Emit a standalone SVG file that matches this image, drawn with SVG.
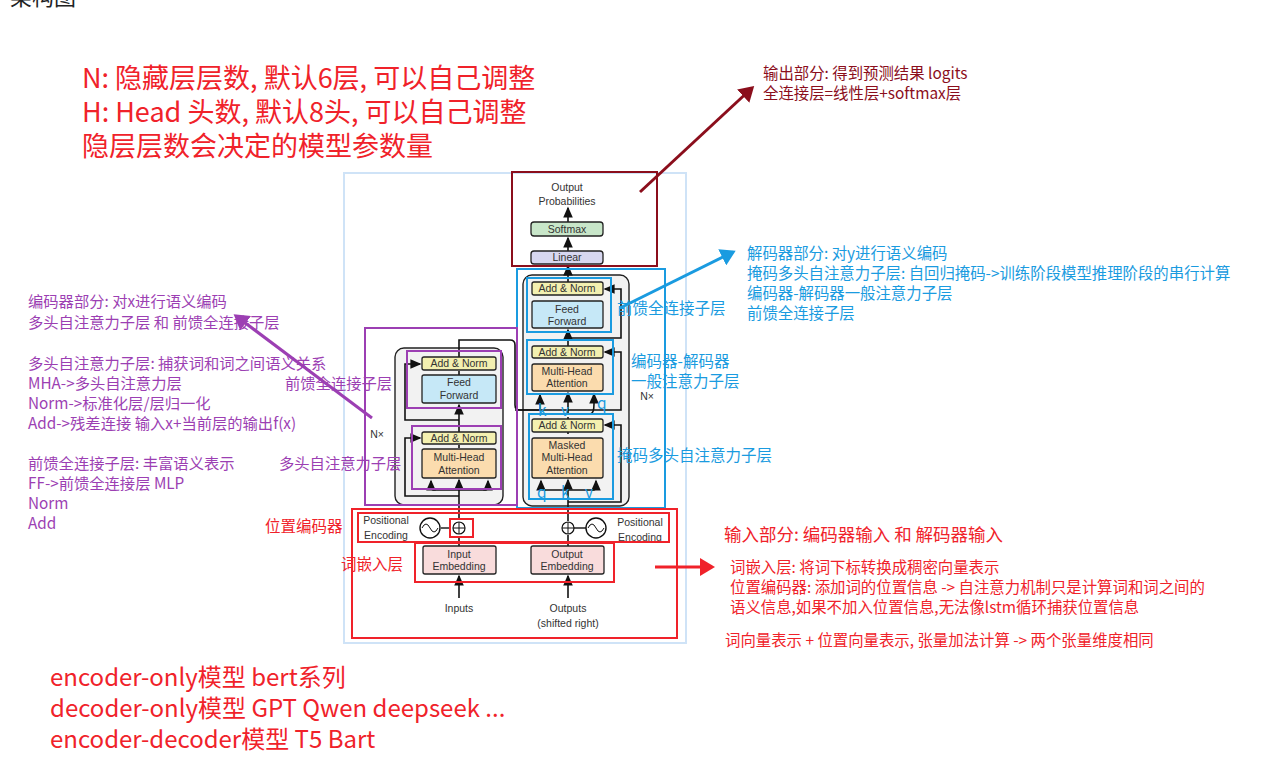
<svg xmlns="http://www.w3.org/2000/svg" width="1280" height="769" viewBox="0 0 1280 769" xml:space="preserve">
<style>
.t{font-family:"Noto Sans CJK SC","Liberation Sans",sans-serif}
.lab{font-family:"Liberation Sans",Arial,sans-serif;font-size:10.5px;fill:#333;text-anchor:middle}
.red{fill:#f0222a}.pur{fill:#9c3fb3}.blu{fill:#1a9be0}.dr{fill:#8b0e1c}
.blk{fill:none;stroke:#111;stroke-width:1.6}
.box{stroke:#222;stroke-width:1.3}
</style>
<defs>
<marker id="ah" markerWidth="8" markerHeight="8" refX="6" refY="4" orient="auto"><path d="M0,1 L7,4 L0,7 z" fill="#111"/></marker>
<marker id="ar" markerWidth="6" markerHeight="6" refX="4" refY="3" orient="auto" markerUnits="strokeWidth"><path d="M0,0 L5,3 L0,6 z" fill="context-stroke"/></marker>
</defs>
<rect width="1280" height="769" fill="#fff"/>
<text class="t" x="10" y="5" font-size="22" fill="#222">架构图</text>
<rect x="344" y="173" width="342" height="470" fill="#fff" stroke="#cfe3f7" stroke-width="2"/>
<g id="enc-stack"><rect x="395" y="348" width="108" height="157" rx="9" fill="#f2f2f2" stroke="#222" stroke-width="1.4"/></g>
<g id="dec-stack"><rect x="523" y="275" width="106" height="231" rx="9" fill="#f2f2f2" stroke="#222" stroke-width="1.4"/></g>
<g id="connectors">
<path class="blk" d="M459,598 V576" marker-end="url(#ah)"/>
<path class="blk" d="M459,546 V537"/>
<path class="blk" d="M459,519 V480" marker-end="url(#ah)"/>
<path class="blk" d="M459,448 V445"/>
<path class="blk" d="M459,432 V405" marker-end="url(#ah)"/>
<path class="blk" d="M459,375 V371"/>
<path class="blk" d="M459,357 V340 H510 Q515,340 515,345 V405 Q515,410 520,410 H540 V395" marker-end="url(#ah)"/>
<path class="blk" d="M515,410 H567"/>
<path class="blk" d="M459,496 H405 V438 H420" marker-end="url(#ah)"/>
<path class="blk" d="M459,420 H405 V364 H420" marker-end="url(#ah)"/>
<path class="blk" d="M459,490 H433 Q431,490 431,484 V481" marker-end="url(#ah)"/>
<path class="blk" d="M459,490 H486 Q488,490 488,484 V481" marker-end="url(#ah)"/>
<path d="M441,528 H449" stroke="#111" stroke-width="1.4"/>
<path class="blk" d="M568,598 V576" marker-end="url(#ah)"/>
<path class="blk" d="M568,546 V535"/>
<path class="blk" d="M568,521 V480" marker-end="url(#ah)"/>
<path class="blk" d="M568,417 V434"/>
<path class="blk" d="M568,414 V393" marker-end="url(#ah)"/>
<path class="blk" d="M568,346 V330" marker-end="url(#ah)"/>
<path class="blk" d="M568,282 V266" marker-end="url(#ah)"/>
<path class="blk" d="M568,251 V238" marker-end="url(#ah)"/>
<path class="blk" d="M568,222 V208" marker-end="url(#ah)"/>
<path class="blk" d="M568,502 H621 V425 H605" marker-end="url(#ah)"/>
<path class="blk" d="M568,410 H621 V352 H605" marker-end="url(#ah)"/>
<path class="blk" d="M568,338 H621 V289 H605" marker-end="url(#ah)"/>
<path class="blk" d="M568,490 H543 Q541,490 541,484 V481" marker-end="url(#ah)"/>
<path class="blk" d="M568,490 H594 Q596,490 596,484 V481" marker-end="url(#ah)"/>
<path class="blk" d="M568,414 H590 Q594,414 594,404 V394" marker-end="url(#ah)"/>
<path d="M574,528 H586" stroke="#111" stroke-width="1.4"/>
</g>
<g id="softmax"><rect class="box" x="531" y="222" width="72" height="14" rx="3" fill="#c8e6c9"/><text class="lab" x="567" y="233">Softmax</text></g>
<g id="linear"><rect class="box" x="531" y="251" width="72" height="13" rx="3" fill="#d7d7f0"/><text class="lab" x="567" y="261">Linear</text></g>
<g id="output-prob"><text class="lab" x="567" y="191" font-size="11.5">Output</text><text class="lab" x="567" y="205" font-size="11.5">Probabilities</text></g>
<g id="dec-an1"><rect class="box" x="532" y="282" width="71" height="13" rx="2" fill="#f3f0b0"/><text class="lab" x="567" y="292">Add &amp; Norm</text></g>
<g id="dec-ff"><rect class="box" x="532" y="301" width="71" height="27" rx="2" fill="#c6e8f7"/><text class="lab" x="567" y="313">Feed</text><text class="lab" x="567" y="325">Forward</text></g>
<g id="dec-an2"><rect class="box" x="532" y="346" width="71" height="12" rx="2" fill="#f3f0b0"/><text class="lab" x="567" y="356">Add &amp; Norm</text></g>
<g id="dec-mha"><rect class="box" x="532" y="364" width="71" height="27" rx="2" fill="#fbdcae"/><text class="lab" x="567" y="375">Multi-Head</text><text class="lab" x="567" y="387">Attention</text></g>
<g id="dec-an3"><rect class="box" x="532" y="419" width="71" height="13" rx="2" fill="#f3f0b0"/><text class="lab" x="567" y="429">Add &amp; Norm</text></g>
<g id="dec-mmha"><rect class="box" x="532" y="438" width="71" height="40" rx="2" fill="#fbdcae"/><text class="lab" x="567" y="449">Masked</text><text class="lab" x="567" y="461">Multi-Head</text><text class="lab" x="567" y="474">Attention</text></g>
<g id="enc-an1"><rect class="box" x="422" y="357" width="74" height="13" rx="2" fill="#f3f0b0"/><text class="lab" x="459" y="367">Add &amp; Norm</text></g>
<g id="enc-ff"><rect class="box" x="422" y="375" width="74" height="28" rx="2" fill="#c6e8f7"/><text class="lab" x="459" y="386">Feed</text><text class="lab" x="459" y="399">Forward</text></g>
<g id="enc-an2"><rect class="box" x="422" y="432" width="74" height="12" rx="2" fill="#f3f0b0"/><text class="lab" x="459" y="442">Add &amp; Norm</text></g>
<g id="enc-mha"><rect class="box" x="422" y="449" width="74" height="29" rx="2" fill="#fbdcae"/><text class="lab" x="459" y="461">Multi-Head</text><text class="lab" x="459" y="474">Attention</text></g>
<g id="in-emb"><rect class="box" x="423" y="546" width="73" height="28" rx="2" fill="#f9dcdc"/><text class="lab" x="459" y="558">Input</text><text class="lab" x="459" y="570">Embedding</text></g>
<g id="out-emb"><rect class="box" x="531" y="546" width="73" height="28" rx="2" fill="#f9dcdc"/><text class="lab" x="567" y="558">Output</text><text class="lab" x="567" y="570">Embedding</text></g>
<g id="pe-enc"><circle cx="430" cy="528" r="10" fill="#fff" stroke="#111" stroke-width="1.4"/><path d="M422,528 Q426,520 430,528 T438,528" fill="none" stroke="#111"/><circle cx="459" cy="528" r="6" fill="#fff" stroke="#111" stroke-width="1.2"/><path d="M453,528 H465 M459,522 V534" stroke="#111"/><text class="lab" x="386" y="524" font-size="11.5">Positional</text><text class="lab" x="386" y="539" font-size="11.5">Encoding</text></g>
<g id="pe-dec"><circle cx="596" cy="528" r="10" fill="#fff" stroke="#111" stroke-width="1.4"/><path d="M588,528 Q592,520 596,528 T604,528" fill="none" stroke="#111"/><circle cx="568" cy="528" r="6" fill="#fff" stroke="#111" stroke-width="1.2"/><path d="M562,528 H574 M568,522 V534" stroke="#111"/><text class="lab" x="640" y="526" font-size="11.5">Positional</text><text class="lab" x="640" y="541" font-size="11.5">Encoding</text></g>
<text class="lab" x="459" y="612" font-size="11.5">Inputs</text>
<text class="lab" x="568" y="612" font-size="11.5">Outputs</text>
<text class="lab" x="568" y="627" font-size="11.5">(shifted right)</text>
<text class="lab" x="377" y="438">N×</text>
<text class="lab" x="647" y="400">N×</text>
<g id="annot-boxes" fill="none">
<rect x="512" y="172" width="145" height="94" stroke="#8b0e1c" stroke-width="2"/>
<rect x="517" y="269" width="148" height="239" stroke="#1a9be0" stroke-width="2"/>
<rect x="527" y="278" width="84" height="54" stroke="#1a9be0" stroke-width="2"/>
<rect x="527" y="340" width="86" height="54" stroke="#1a9be0" stroke-width="2"/>
<rect x="529" y="414" width="84" height="85" stroke="#1a9be0" stroke-width="2"/>
<rect x="365" y="328" width="152" height="177" stroke="#9c3fb3" stroke-width="2"/>
<rect x="407" y="351" width="94" height="57" stroke="#9c3fb3" stroke-width="2"/>
<rect x="412" y="426" width="89" height="63" stroke="#9c3fb3" stroke-width="2"/>
<rect x="352" y="509" width="325" height="129" stroke="#f0222a" stroke-width="2"/>
<rect x="358" y="513" width="311" height="29" stroke="#f0222a" stroke-width="2"/>
<rect x="415" y="543" width="199" height="39" stroke="#f0222a" stroke-width="2"/>
<rect x="450" y="519" width="23" height="18" stroke="#f0222a" stroke-width="2"/>
</g>
<g id="annot-arrows" fill="none" stroke-width="3">
<path d="M640,192 L752,88" stroke="#8b0e1c" marker-end="url(#ar)"/>
<path d="M620,308 L733,252" stroke="#1a9be0" marker-end="url(#ar)"/>
<path d="M372,418 L236,316" stroke="#9c3fb3" marker-end="url(#ar)"/>
<path d="M655,567 L712,567" stroke="#f0222a" marker-end="url(#ar)"/>
</g>
<g class="t red" font-size="27">
<text x="82" y="88">N: 隐藏层层数, 默认6层, 可以自己调整</text>
<text x="82" y="122">H: Head 头数, 默认8头, 可以自己调整</text>
<text x="82" y="156">隐层层数会决定的模型参数量</text>
</g>
<g class="t dr" font-size="15.4"><text x="763" y="79">输出部分:  得到预测结果 logits</text><text x="763" y="99">全连接层=线性层+softmax层</text></g>
<g class="t blu" font-size="15.4">
<text x="747" y="259">解码器部分:  对y进行语义编码</text>
<text x="747" y="279">掩码多头自注意力子层: 自回归掩码-&gt;训练阶段模型推理阶段的串行计算</text>
<text x="747" y="299">编码器-解码器一般注意力子层</text>
<text x="747" y="319">前馈全连接子层</text>
</g>
<g class="t blu" font-size="15.5">
<text x="617" y="314">前馈全连接子层</text>
<text x="631" y="367">编码器-解码器</text>
<text x="631" y="387">一般注意力子层</text>
<text x="617" y="461">掩码多头自注意力子层</text>
<text x="538" y="416">k</text><text x="561" y="416">v</text><text x="597" y="409">q</text>
<text x="537" y="498">q</text><text x="561" y="498">k</text><text x="585" y="498">v</text>
</g>
<g class="t pur" font-size="15.3">
<text x="28" y="307">编码器部分:  对x进行语义编码</text>
<text x="28" y="328">多头自注意力子层 和 前馈全连接子层</text>
<text x="28" y="369">多头自注意力子层:  捕获词和词之间语义关系</text>
<text x="28" y="389">MHA-&gt;多头自注意力层</text>
<text x="28" y="409">Norm-&gt;标准化层/层归一化</text>
<text x="28" y="429">Add-&gt;残差连接  输入x+当前层的输出f(x)</text>
<text x="28" y="469">前馈全连接子层:  丰富语义表示</text>
<text x="28" y="489">FF-&gt;前馈全连接层 MLP</text>
<text x="28" y="509">Norm</text>
<text x="28" y="529">Add</text>
<text x="285" y="389">前馈全连接子层</text>
<text x="279" y="469">多头自注意力子层</text>
</g>
<g class="t red" font-size="15.5"><text x="265" y="532">位置编码器</text><text x="341" y="570">词嵌入层</text></g>
<g class="t red" font-size="15.4">
<text x="724" y="541" font-size="17.5">输入部分: 编码器输入 和 解码器输入</text>
<text x="730" y="573">词嵌入层: 将词下标转换成稠密向量表示</text>
<text x="730" y="593">位置编码器: 添加词的位置信息 -&gt; 自注意力机制只是计算词和词之间的</text>
<text x="730" y="613">语义信息,如果不加入位置信息,无法像lstm循环捕获位置信息</text>
<text x="725" y="646">词向量表示 + 位置向量表示, 张量加法计算 -&gt; 两个张量维度相同</text>
</g>
<g class="t red" font-size="24">
<text x="50" y="686">encoder-only模型    bert系列</text>
<text x="50" y="717">decoder-only模型   GPT Qwen deepseek ...</text>
<text x="50" y="748">encoder-decoder模型   T5 Bart</text>
</g>
</svg>
